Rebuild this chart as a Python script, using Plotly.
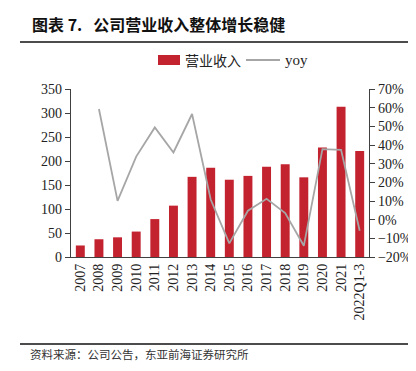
import plotly.graph_objects as go

categories = ["2007", "2008", "2009", "2010", "2011", "2012", "2013", "2014",
              "2015", "2016", "2017", "2018", "2019", "2020", "2021", "2022Q1-3"]
revenue = [24, 37, 41, 53, 79, 107, 167, 186, 161, 169, 188, 193, 166, 228, 313, 221]
yoy = [None, 59.3, 10.1, 33.8, 49.4, 36.0, 56.6, 10.8, -12.7, 4.8, 11.2, 3.5, -14.0, 37.8, 37.4, -5.9]

BAR_COLOR = "#c3222f"
LINE_COLOR = "#a6a6a6"
SERIF = "Liberation Serif, Times New Roman, serif"
CJK = "Noto Sans CJK SC, sans-serif"

fig = go.Figure()
fig.add_trace(go.Bar(x=categories, y=revenue, name="营业收入", marker_color=BAR_COLOR,
                     marker_line_width=0, width=0.48, yaxis="y", showlegend=False))
fig.add_trace(go.Scatter(x=categories, y=yoy, name="yoy", mode="lines",
                         line=dict(color=LINE_COLOR, width=1.8), yaxis="y2",
                         connectgaps=False, showlegend=False))

fig.update_layout(
    width=416, height=371,
    margin=dict(l=63, r=55, t=81, b=122),
    paper_bgcolor="white", plot_bgcolor="white",
    bargap=0.52,
    xaxis=dict(type="category", tickangle=-90, showline=True, linecolor="#404040", linewidth=1.2,
               ticks="", showgrid=False, tickfont=dict(family=SERIF, size=14, color="#222"),
               range=[-0.5, 15.5]),
    yaxis=dict(range=[0, 350], dtick=50, showgrid=False, zeroline=False, showline=True,
               linecolor="#404040", linewidth=1.2, ticks="outside", ticklen=5, tickcolor="#404040",
               tickfont=dict(family=SERIF, size=14, color="#222")),
    yaxis2=dict(range=[-20, 70], dtick=10, overlaying="y", side="right", showgrid=False,
                zeroline=False, showline=True, linecolor="#404040", linewidth=1.2,
                ticks="outside", ticklen=5, tickcolor="#404040", ticksuffix="%",
                tickfont=dict(family=SERIF, size=14, color="#222")),
    showlegend=False,
)

# Title and rules
fig.add_annotation(text="<b>图表 7.\u00a0\u00a0\u00a0公司营业收入整体增长稳健</b>", xref="paper", yref="paper",
                   x=(22-63)/298, y=1 + (81-16)/168, xanchor="left", yanchor="middle",
                   showarrow=False, font=dict(family=CJK, size=16, color="#111"))
fig.add_shape(type="line", xref="paper", yref="paper",
              x0=(12-63)/298, x1=(412-63)/298, y0=1 + (81-34)/168, y1=1 + (81-34)/168,
              line=dict(color="#111", width=1.5))
fig.add_shape(type="line", xref="paper", yref="paper",
              x0=(12-63)/298, x1=(412-63)/298, y0=-(336-249)/168, y1=-(336-249)/168,
              line=dict(color="#111", width=1.5))
fig.add_annotation(text="资料来源：公司公告，东亚前海证券研究所", xref="paper", yref="paper",
                   x=(20-63)/298, y=-(346-249)/168, xanchor="left", yanchor="middle",
                   showarrow=False, font=dict(family=CJK, size=11.5, color="#333"))

# Legend drawn manually
ly = 1 + (81-52)/168
fig.add_shape(type="rect", xref="paper", yref="paper",
              x0=(150-63)/298, x1=(172-63)/298, y0=ly - 5/168, y1=ly + 5/168,
              fillcolor=BAR_COLOR, line_width=0)
fig.add_annotation(text="营业收入", xref="paper", yref="paper", x=(175-63)/298, y=ly,
                   xanchor="left", yanchor="middle", showarrow=False,
                   font=dict(family=CJK, size=14, color="#222"))
fig.add_shape(type="line", xref="paper", yref="paper",
              x0=(238-63)/298, x1=(272-63)/298, y0=ly, y1=ly,
              line=dict(color=LINE_COLOR, width=1.8))
fig.add_annotation(text="yoy", xref="paper", yref="paper", x=(275-63)/298, y=ly,
                   xanchor="left", yanchor="middle", showarrow=False,
                   font=dict(family=SERIF, size=15, color="#222"))

fig.write_html("out.html")
